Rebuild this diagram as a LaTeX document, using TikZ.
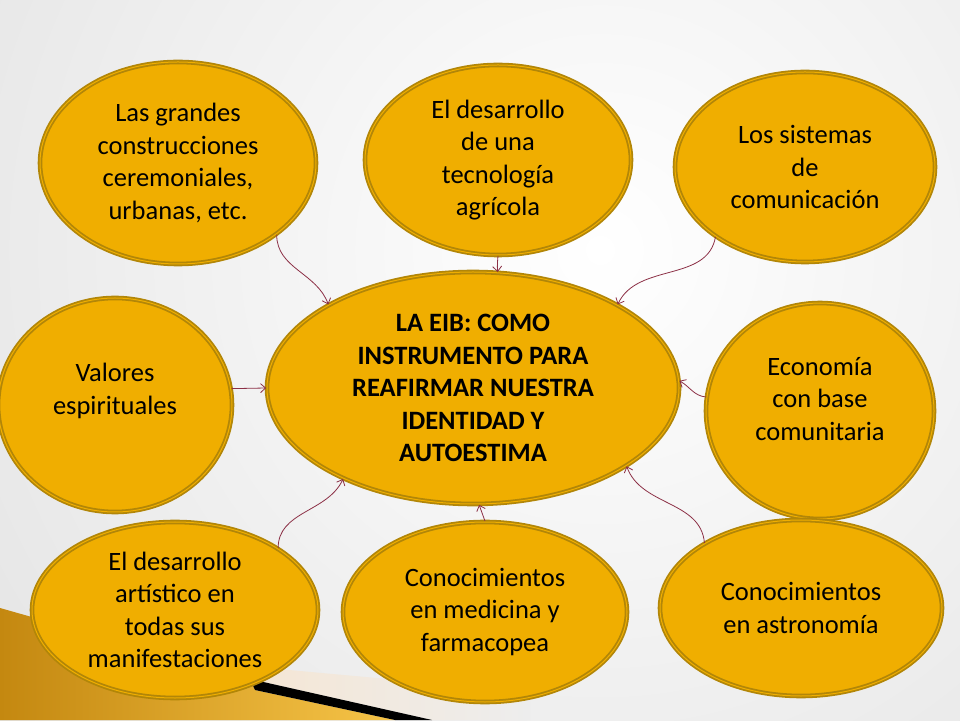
\documentclass[tikz,border=0pt]{standalone}
\usepackage{fontspec}
\setmainfont{Carlito}
\usetikzlibrary{shapes.geometric}
\usetikzlibrary{arrows.meta}
\definecolor{oro}{RGB}{240,174,0}
\definecolor{orodark}{RGB}{178,134,8}
\definecolor{flecha}{RGB}{140,48,70}
\definecolor{durazno}{RGB}{245,230,212}
\tikzset{bub/.style={ellipse,fill=oro,draw=orodark,line width=1.8pt,double=oro,double distance=1pt,inner sep=0pt,align=center,font=\fontsize{26.5}{32.5}\selectfont}}
\tikzset{ln/.style={->,draw=flecha,line width=0.8pt}}
\tikzset{>={Straight Barb[length=5pt,width=9pt]}}

\begin{document}
\begin{tikzpicture}[x=1pt,y=1pt]
        \useasboundingbox (0,0) rectangle (960,720);
        \shade[inner color=white,outer color=black!17] (600,470) circle (1250);
        \shade[left color=durazno,right color=black!7] (245,54) -- (530,28) -- (530,0) -- (432,0) -- (250,41) -- cycle;
        \shade[left color={rgb,255:red,196;green,136;blue,16},right color={rgb,255:red,246;green,196;blue,72}] (0,112) -- (250,41) -- (255,30) -- (395,0) -- (0,0) -- cycle;
        \fill[black] (250,41) -- (432,0) -- (395,0) -- (255,30) -- cycle;

        \node[bub,minimum width=276pt,minimum height=202pt] (tl) at (178,557) {Las grandes\\construcciones\\ceremoniales,\\urbanas, etc.};
        \node[bub,minimum width=266pt,minimum height=190pt] (tm) at (498,560) {El desarrollo\\de una\\tecnolog\'ia\\agr\'icola};
        \node[bub,minimum width=260pt,minimum height=190pt] (tr) at (805,553) {Los sistemas\\de\\comunicaci\'on};

        \node[bub,minimum width=234pt,minimum height=214pt] (vl) at (115,315) {Valores\\espirituales\\~};
        \node[bub,minimum width=412pt,minimum height=232pt,font=\fontsize{26.5}{32.5}\selectfont\bfseries] (eib) at (473,332) {LA EIB: COMO\\INSTRUMENTO PARA\\REAFIRMAR NUESTRA\\IDENTIDAD Y\\AUTOESTIMA};
        \node[bub,minimum width=228pt,minimum height=216pt] (ec) at (820,309) {Econom\'ia\\con base\\comunitaria\\[-8pt]~};

        \node[bub,minimum width=286pt,minimum height=176pt] (bl) at (175,110) {El desarrollo\\art\'istico en\\todas sus\\manifestaciones};
        \node[bub,minimum width=284pt,minimum height=180pt] (bm) at (485,108) {Conocimientos\\en medicina y\\farmacopea};
        \node[bub,minimum width=282pt,minimum height=176pt] (br) at (801,112) {Conocimientos\\en astronom\'ia};

        \draw[ln] (tl.-36) to[out=-90,in=110] (eib.150);
        \draw[ln] (tm.south) to[out=-95,in=95] (eib.78);
        \draw[ln] (tr.-142) to[out=-100,in=65] (eib.30);
        \draw[ln] (vl.8) -- (eib.west);
        \draw[ln] (ec.173) to[out=175,in=-30] (eib.2);
        \draw[ln] (bl.31) to[out=90,in=-115] (eib.-145);
        \draw[ln] (bm.north) -- (eib.-87);
        \draw[ln] (br.146) to[out=95,in=-70] (eib.-27);
    \end{tikzpicture}
\end{document}
